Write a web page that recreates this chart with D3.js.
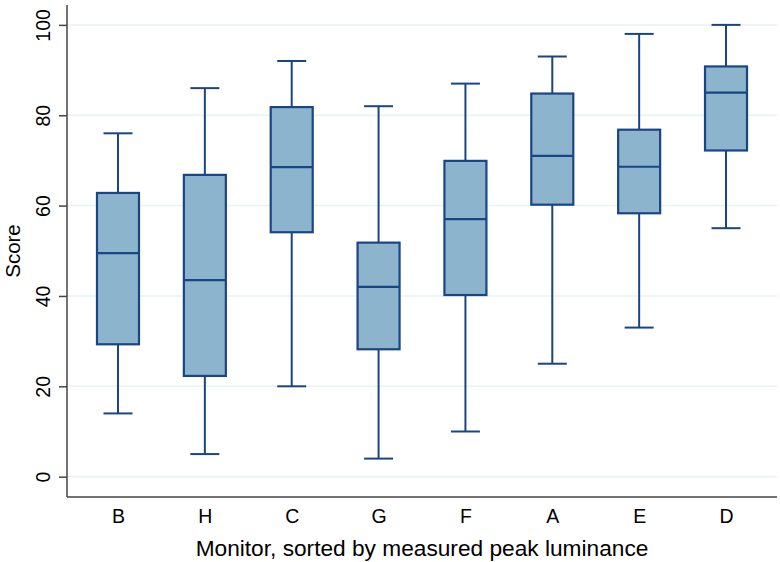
<!DOCTYPE html>
<html>
<head>
<meta charset="utf-8">
<script src="https://cdn.jsdelivr.net/npm/d3@7/dist/d3.min.js"></script>
<style>
  html, body { margin: 0; padding: 0; background: #fff; }
  svg { display: block; }
  text { font-family: "Liberation Sans", Arial, Helvetica, sans-serif; fill: #000; }
</style>
</head>
<body>
<svg id="chart" width="780" height="562"></svg>
<script>
// ---- data ----
const categories = ["B", "H", "C", "G", "F", "A", "E", "D"];
const whiskerLow  = [14, 5, 20, 4, 10, 25, 33, 55];
const q1          = [29.3, 22.3, 54.1, 28.2, 40.2, 60.2, 58.3, 72.2];
const median      = [49.5, 43.5, 68.5, 42.0, 57.0, 71.0, 68.6, 85.0];
const q3          = [62.8, 66.8, 81.8, 51.8, 69.9, 84.8, 76.8, 90.8];
const whiskerHigh = [76, 86, 92, 82, 87, 93, 98, 100];
const yTicks = [0, 20, 40, 60, 80, 100];
const xTitle = "Monitor, sorted by measured peak luminance";
const yTitle = "Score";

// ---- layout ----
const svg = d3.select("#chart");
const plot = { left: 67, right: 777, top: 5, bottom: 497 };
const boxW = 42, capW = 29;
const strokeCol = "#1a4585", fillCol = "#8cb4cd", gridCol = "#eaf2f3", axisCol = "#444";
const tickFont = "19.5px", titleFont = "22.7px", yTitleFont = "20.5px";

const x = d3.scalePoint().domain(categories).range([plot.left, plot.right]).padding(0.587);
const y = d3.scaleLinear().domain([-4.5, 104.4]).range([plot.bottom, plot.top]);

// grid
svg.append("g").selectAll("line").data(yTicks).join("line")
  .attr("x1", plot.left).attr("x2", plot.right)
  .attr("y1", d => y(d)).attr("y2", d => y(d))
  .attr("stroke", gridCol).attr("stroke-width", 1.5);

// boxes
const data = categories.map((c, i) => ({
  c, lo: whiskerLow[i], q1: q1[i], med: median[i], q3: q3[i], hi: whiskerHigh[i]
}));
const g = svg.append("g").selectAll("g").data(data).join("g");
// whiskers
g.append("line").attr("x1", d => x(d.c)).attr("x2", d => x(d.c))
  .attr("y1", d => y(d.hi)).attr("y2", d => y(d.q3))
  .attr("stroke", strokeCol).attr("stroke-width", 2);
g.append("line").attr("x1", d => x(d.c)).attr("x2", d => x(d.c))
  .attr("y1", d => y(d.q1)).attr("y2", d => y(d.lo))
  .attr("stroke", strokeCol).attr("stroke-width", 2);
// caps
g.append("line").attr("x1", d => x(d.c) - capW / 2).attr("x2", d => x(d.c) + capW / 2)
  .attr("y1", d => y(d.hi)).attr("y2", d => y(d.hi))
  .attr("stroke", strokeCol).attr("stroke-width", 2);
g.append("line").attr("x1", d => x(d.c) - capW / 2).attr("x2", d => x(d.c) + capW / 2)
  .attr("y1", d => y(d.lo)).attr("y2", d => y(d.lo))
  .attr("stroke", strokeCol).attr("stroke-width", 2);
// box
g.append("rect").attr("x", d => x(d.c) - boxW / 2).attr("width", boxW)
  .attr("y", d => y(d.q3)).attr("height", d => y(d.q1) - y(d.q3))
  .attr("fill", fillCol).attr("stroke", strokeCol).attr("stroke-width", 2.2);
// median
g.append("line").attr("x1", d => x(d.c) - boxW / 2).attr("x2", d => x(d.c) + boxW / 2)
  .attr("y1", d => y(d.med)).attr("y2", d => y(d.med))
  .attr("stroke", strokeCol).attr("stroke-width", 2.2);

// y axis
const yAxis = d3.axisLeft(y).tickValues(yTicks).tickSize(8).tickPadding(0).tickFormat(d3.format("d"));
const ya = svg.append("g").attr("transform", `translate(${plot.left},0)`).call(yAxis);
ya.select(".domain").attr("stroke", axisCol).attr("stroke-width", 1.5)
  .attr("d", `M0,${plot.top}V${plot.bottom}`);
ya.selectAll(".tick line").attr("stroke", axisCol).attr("stroke-width", 1.5);
ya.selectAll(".tick text")
  .attr("x", 0).attr("y", 0).attr("dy", null)
  .attr("transform", "translate(-17,0) rotate(-90)")
  .attr("text-anchor", "middle")
  .style("font-size", tickFont).style("font-family", '"Liberation Sans", Arial, sans-serif')
  .attr("fill", "#000");

// x axis
const xAxis = d3.axisBottom(x).tickSize(0).tickPadding(0);
const xa = svg.append("g").attr("transform", `translate(0,${plot.bottom})`).call(xAxis);
xa.select(".domain").attr("stroke", axisCol).attr("stroke-width", 1.5)
  .attr("d", `M${plot.left},0H${plot.right}`);
xa.selectAll(".tick text").attr("y", 26).attr("dy", null)
  .style("font-size", tickFont).style("font-family", '"Liberation Sans", Arial, sans-serif')
  .attr("fill", "#000");

// titles
svg.append("text").attr("x", (plot.left + plot.right) / 2).attr("y", 556)
  .attr("text-anchor", "middle").style("font-size", titleFont).text(xTitle);
svg.append("text").attr("transform", `translate(20,${(plot.top + plot.bottom) / 2}) rotate(-90)`)
  .attr("text-anchor", "middle").style("font-size", yTitleFont).text(yTitle);
</script>
</body>
</html>
